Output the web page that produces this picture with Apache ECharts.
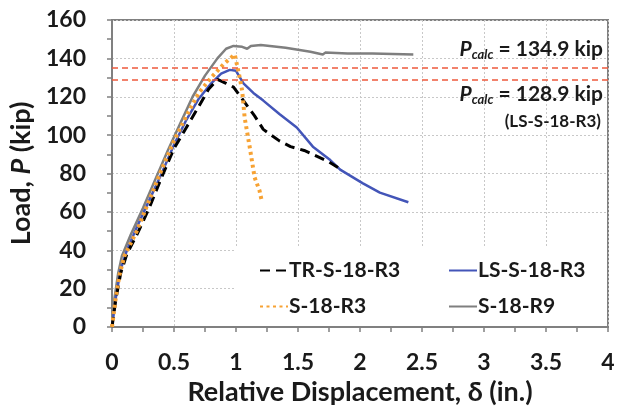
<!DOCTYPE html>
<html><head><meta charset="utf-8">
<script src="https://cdn.jsdelivr.net/npm/echarts@6/dist/echarts.min.js"></script>
<style>html,body{margin:0;padding:0;background:#fff}#c{width:625px;height:415px}</style>
</head><body><div id="c"></div>
<script>
var xTicks = [0, 0.5, 1, 1.5, 2, 2.5, 3, 3.5, 4];
var yTicks = [0, 20, 40, 60, 80, 100, 120, 140, 160];
var calcLoads = [134.9, 128.9];

var trS18R3 = [[0,0],[0.03,14],[0.07,28],[0.12,38],[0.2,48],[0.3,62],[0.4,78],[0.5,93],[0.6,104],[0.7,115],[0.78,124],[0.85,129],[0.92,127],[0.98,125],[1.06,118],[1.15,110],[1.22,103],[1.35,97],[1.44,94],[1.55,92],[1.65,89],[1.75,86],[1.85,82]];
var lsS18R3 = [[0,0],[0.03,15],[0.07,30],[0.12,40],[0.2,52],[0.3,66],[0.4,80],[0.5,95],[0.6,108],[0.7,119],[0.8,127],[0.88,132],[0.95,134],[1.0,133.5],[1.06,127],[1.14,122],[1.22,118],[1.35,111],[1.49,104],[1.62,94],[1.76,87],[1.84,82],[2.02,75],[2.16,70],[2.39,65]];
var s18R3 = [[0,0],[0.03,15],[0.06,27],[0.1,37],[0.2,50],[0.3,66],[0.4,82],[0.5,97],[0.6,110],[0.7,122],[0.8,130],[0.9,137],[0.99,142],[1.03,130],[1.05,123],[1.07,109],[1.11,94],[1.15,78],[1.19,71],[1.21,65]];
var s18R9 = [[0,0],[0.02,15],[0.05,28],[0.08,37],[0.15,48],[0.25,62],[0.35,77],[0.45,92],[0.55,106],[0.65,120],[0.75,131],[0.85,140],[0.92,145],[0.98,146.5],[1.05,146],[1.09,145],[1.12,146.5],[1.2,147],[1.4,145.5],[1.6,143.5],[1.7,142],[1.72,143],[1.9,142.5],[2.1,142.5],[2.43,142]];

var FONT = 'Lato';
var TXT = '#1a1a1a';
var chart = echarts.init(document.getElementById('c'));
function ser(name, data, color, type, width) {
  return {name: name, type: 'line', data: data, symbol: 'none', showSymbol: false, smooth: false,
    lineStyle: {color: color, width: width, type: type},
    itemStyle: {color: color}, z: 3};
}
var seriesList = [
  ser('S-18-R9', s18R9, '#7f7f7f', 'solid', 2.5),
  ser('LS-S-18-R3', lsS18R3, '#4355b8', 'solid', 2.5),
  ser('TR-S-18-R3', trS18R3, '#000000', [10, 6], 3),
  ser('S-18-R3', s18R3, '#f7a233', [3, 3.5], 4)
];
seriesList[0].markLine = {
  silent: true, symbol: 'none', label: {show: false},
  lineStyle: {color: '#ee5a3c', width: 1.5, type: [6, 4]},
  data: calcLoads.map(function (v) { return {yAxis: v}; })
};
function legendCfg(names, left) {
  return {data: names, orient: 'vertical', left: left, top: 255, itemGap: 15,
    itemWidth: 28, itemHeight: 24,
    itemStyle: {opacity: 0, borderWidth: 0},
    textStyle: {fontFamily: FONT, fontWeight: 'bold', fontSize: 21, color: TXT, padding: [0, 0, 0, -4]}};
}
var richCalc = {
  p: {fontFamily: FONT, fontWeight: 'bold', fontStyle: 'italic', fontSize: 21, fill: TXT},
  s: {fontFamily: FONT, fontWeight: 'bold', fontStyle: 'italic', fontSize: 13, fill: TXT, padding: [11, 0, 0, 0]},
  t: {fontFamily: FONT, fontWeight: 'bold', fontSize: 21, fill: TXT}
};
var option = {
  animation: false,
  backgroundColor: '#fff',
  grid: {left: 112, right: 17, top: 20, bottom: 88, show: true, borderColor: '#808080', borderWidth: 2},
  xAxis: {
    type: 'value', min: 0, max: 4, interval: 0.5,
    name: 'Relative Displacement, δ (in.)', nameLocation: 'middle', nameGap: 49,
    nameTextStyle: {fontFamily: FONT, fontWeight: 'bold', fontSize: 27, color: TXT},
    axisLine: {show: true, lineStyle: {color: '#808080', width: 2}},
    axisTick: {show: true, length: 5, lineStyle: {color: '#808080', width: 1.5}},
    minorTick: {show: true, splitNumber: 2, length: 5, lineStyle: {color: '#808080', width: 1.5}},
    axisLabel: {fontFamily: FONT, fontWeight: 'bold', fontSize: 23, color: TXT, margin: 24,
      formatter: function (v) { return xTicks.indexOf(v) >= 0 ? String(v) : ''; }},
    splitLine: {show: true, lineStyle: {color: '#c8c8c8', width: 1, type: [2, 2]}}
  },
  yAxis: {
    type: 'value', min: 0, max: 160, interval: 20,
    name: '{b|Load, }{i|P}{b| (kip)}', nameLocation: 'middle', nameGap: 73,
    nameTextStyle: {rich: {
      b: {fontFamily: FONT, fontWeight: 'bold', fontSize: 27, color: TXT},
      i: {fontFamily: FONT, fontWeight: 'bold', fontStyle: 'italic', fontSize: 27, color: TXT}}},
    axisLine: {show: true, lineStyle: {color: '#808080', width: 2}},
    axisTick: {show: true, length: 5, lineStyle: {color: '#808080', width: 1.5}},
    minorTick: {show: true, splitNumber: 2, length: 5, lineStyle: {color: '#808080', width: 1.5}},
    axisLabel: {fontFamily: FONT, fontWeight: 'bold', fontSize: 23, color: TXT, margin: 26,
      formatter: function (v) { return yTicks.indexOf(v) >= 0 ? String(v) : ''; }},
    splitLine: {show: true, lineStyle: {color: '#c8c8c8', width: 1, type: [2, 2]}}
  },
  legend: [
    legendCfg(['TR-S-18-R3', 'S-18-R3'], 254),
    legendCfg(['LS-S-18-R3', 'S-18-R9'], 443)
  ],
  graphic: [
    {type: 'rect', shape: {x: 236, y: 246, width: 371, height: 80}, style: {fill: '#fff'}, z: 1, silent: true},
    {type: 'text', right: 22, top: 39, z: 5, style: {text: '{p|P}{s|calc}{t| = 134.9 kip}', rich: richCalc}},
    {type: 'text', right: 22, top: 84, z: 5, style: {text: '{p|P}{s|calc}{t| = 128.9 kip}', rich: richCalc}},
    {type: 'text', right: 24, top: 113, z: 5, style: {
      text: '(LS-S-18-R3)', fontFamily: FONT, fontWeight: 'bold', fontSize: 17, fill: TXT}}
  ],
  series: seriesList
};
chart.setOption(option);
</script></body></html>
